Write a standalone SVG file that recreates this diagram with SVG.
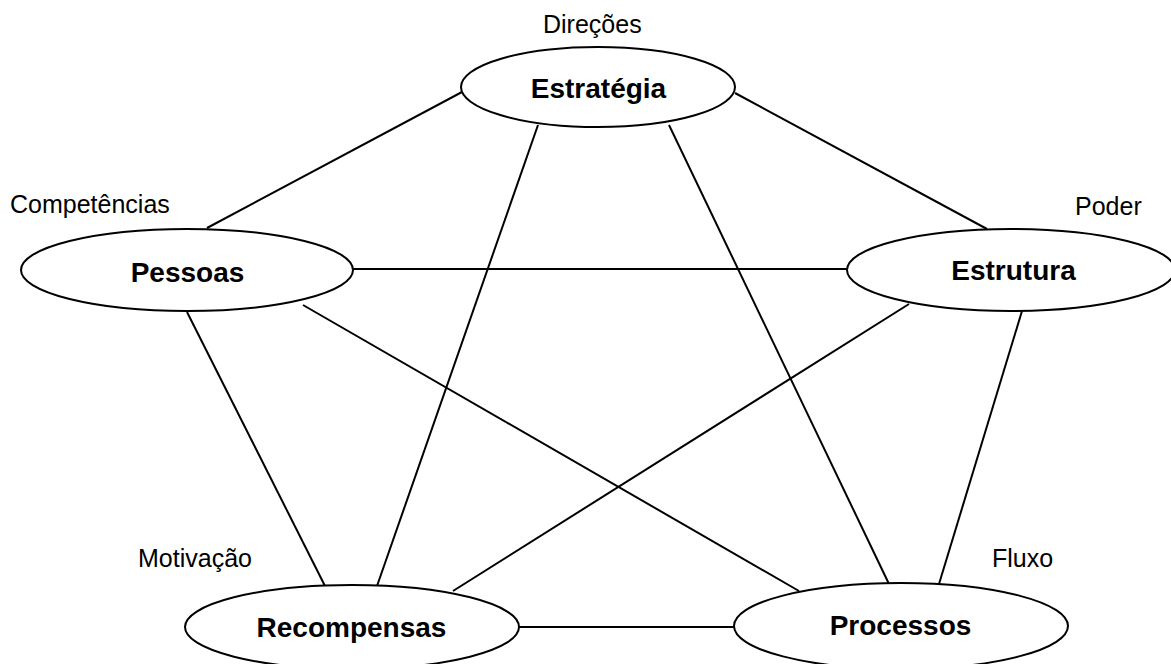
<svg xmlns="http://www.w3.org/2000/svg" width="1171" height="664" viewBox="0 0 1171 664">
<style>
.node{fill:#fff;stroke:#000;stroke-width:2}
.edge{stroke:#000;stroke-width:2;fill:none}
.t{font-family:"Liberation Sans",Arial,sans-serif;font-weight:bold;font-size:28px;text-anchor:middle;fill:#000}
.lbl{font-family:"Liberation Sans",Arial,sans-serif;font-size:25px;fill:#000}
</style>
<rect width="1171" height="664" fill="#fff"/>
<g id="connectors">
<line class="edge" x1="462" y1="92" x2="207" y2="228"/>
<line class="edge" x1="735" y1="93" x2="987" y2="229"/>
<line class="edge" x1="538" y1="125" x2="377" y2="586"/>
<line class="edge" x1="669" y1="125" x2="889" y2="584"/>
<line class="edge" x1="353" y1="269" x2="847" y2="269"/>
<line class="edge" x1="187" y1="312" x2="325" y2="586"/>
<line class="edge" x1="303" y1="305" x2="799" y2="591"/>
<line class="edge" x1="909" y1="304" x2="453" y2="591"/>
<line class="edge" x1="1022" y1="311" x2="939" y2="584"/>
<line class="edge" x1="519" y1="627" x2="734" y2="627"/>
</g>
<g id="estrategia">
<ellipse class="node" cx="598" cy="87" rx="137" ry="40"/>
<text class="t" x="598.5" y="98">Estratégia</text>
<text class="lbl" x="543" y="33">Direções</text>
</g>
<g id="pessoas">
<ellipse class="node" cx="187" cy="270" rx="166" ry="41"/>
<text class="t" x="187.5" y="282">Pessoas</text>
<text class="lbl" x="10" y="213">Competências</text>
</g>
<g id="estrutura">
<ellipse class="node" cx="1011" cy="270" rx="164" ry="41"/>
<text class="t" x="1013.5" y="280">Estrutura</text>
<text class="lbl" x="1075" y="215">Poder</text>
</g>
<g id="recompensas">
<ellipse class="node" cx="352" cy="627" rx="167" ry="42"/>
<text class="t" x="351.5" y="637">Recompensas</text>
<text class="lbl" x="138" y="567">Motivação</text>
</g>
<g id="processos">
<ellipse class="node" cx="901" cy="626" rx="167" ry="43"/>
<text class="t" x="900.5" y="635">Processos</text>
<text class="lbl" x="992" y="567">Fluxo</text>
</g>
</svg>
